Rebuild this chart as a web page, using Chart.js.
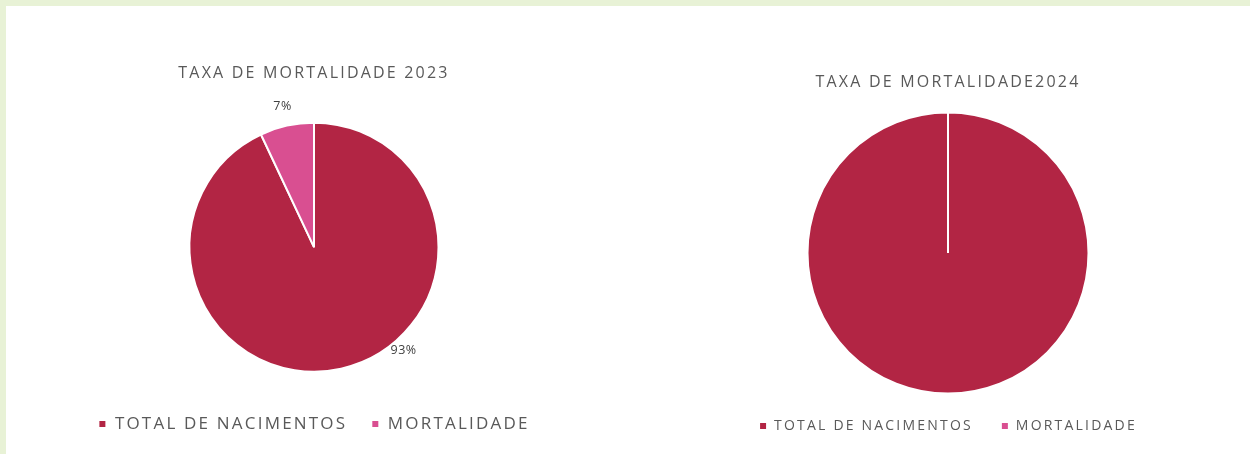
<!DOCTYPE html>
<html>
<head>
<meta charset="utf-8">
<script src="https://cdn.jsdelivr.net/npm/chart.js@4.4.1/dist/chart.umd.min.js"></script>
<style>
  html, body { margin: 0; padding: 0; background: #e8f2d6; }
  #panel { position: absolute; left: 6px; top: 6px; width: 1244px; height: 448px; background: #fff; }
  .box { position: absolute; top: 0; height: 448px; }
  #box2023 { left: 0; width: 616px; }
  #box2024 { left: 640px; width: 604px; }
</style>
</head>
<body>
<div id="panel">
  <div class="box" id="box2023"><canvas id="chart2023"></canvas></div>
  <div class="box" id="box2024"><canvas id="chart2024"></canvas></div>
</div>
<script>
const categories = ["TOTAL DE NACIMENTOS", "MORTALIDADE"];
const values2023 = [93, 7];
const values2024 = [100, 0];
const titles = ["TAXA DE MORTALIDADE 2023", "TAXA DE MORTALIDADE2024"];
const colors = ["#b22544", "#d94f91"];

const FONT = "'Open Sans', Lato, sans-serif";
const TEXT = "#595959";

// the original font is wide and loosely spaced, so widen the canvas text
const spacing = {
  id: "spacing",
  beforeLayout(chart) { chart.ctx.letterSpacing = "2.2px"; },
  beforeDraw(chart) { chart.ctx.letterSpacing = "2.2px"; }
};

// draws the percentage next to each slice; angle/offset can be overridden per slice
const pctLabels = {
  id: "pctLabels",
  afterDatasetsDraw(chart, args, opts) {
    if (!opts.show) return;
    const ctx = chart.ctx;
    const meta = chart.getDatasetMeta(0);
    const data = chart.data.datasets[0].data;
    const total = data.reduce((a, b) => a + b, 0);
    ctx.save();
    ctx.letterSpacing = "0.5px";
    ctx.font = "12.5px " + FONT;
    ctx.fillStyle = "#404040";
    ctx.textAlign = "center";
    ctx.textBaseline = "middle";
    meta.data.forEach((arc, i) => {
      const p = arc.getProps(["x", "y", "startAngle", "endAngle", "outerRadius"], true);
      const o = (opts.place && opts.place[i]) || {};
      const ang = o.angle !== undefined ? o.angle * Math.PI / 180 : (p.startAngle + p.endAngle) / 2;
      const d = p.outerRadius + (o.offset !== undefined ? o.offset : 20);
      const txt = Math.round(data[i] / total * 100) + "%";
      ctx.fillText(txt, p.x + Math.cos(ang) * d, p.y + Math.sin(ang) * d);
    });
    ctx.restore();
  }
};

function makePie(id, values, title, cfg) {
  return new Chart(document.getElementById(id), {
    type: "pie",
    data: {
      labels: categories,
      datasets: [{
        data: values,
        backgroundColor: colors,
        borderColor: "#ffffff",
        borderWidth: 2,
        radius: cfg.radius
      }]
    },
    options: {
      responsive: true,
      maintainAspectRatio: false,
      animation: false,
      layout: { padding: { top: 0, bottom: cfg.padBottom } },
      plugins: {
        title: {
          display: true,
          text: title,
          color: TEXT,
          font: { family: FONT, size: 16, weight: "normal" },
          padding: { top: cfg.titleTop, bottom: cfg.titleBottom }
        },
        legend: {
          position: "bottom",
          labels: {
            color: TEXT,
            font: { family: FONT, size: cfg.legendSize },
            boxWidth: 8,
            boxHeight: 8,
            padding: cfg.legendGap
          }
        },
        tooltip: { enabled: false },
        pctLabels: cfg.labels
      }
    },
    plugins: [spacing, pctLabels]
  });
}

makePie("chart2023", values2023, titles[0], {
  radius: 124.5, padBottom: 11.5, titleTop: 57.4, titleBottom: 20.2, legendSize: 17, legendGap: 24,
  labels: { show: true, place: [{ angle: 49, offset: 12 }, { offset: 20 }] }
});

makePie("chart2024", values2024, titles[1], {
  radius: 140.5, padBottom: 11, titleTop: 66.4, titleBottom: 23.4, legendSize: 14, legendGap: 28,
  labels: { show: false }
});
</script>
</body>
</html>
